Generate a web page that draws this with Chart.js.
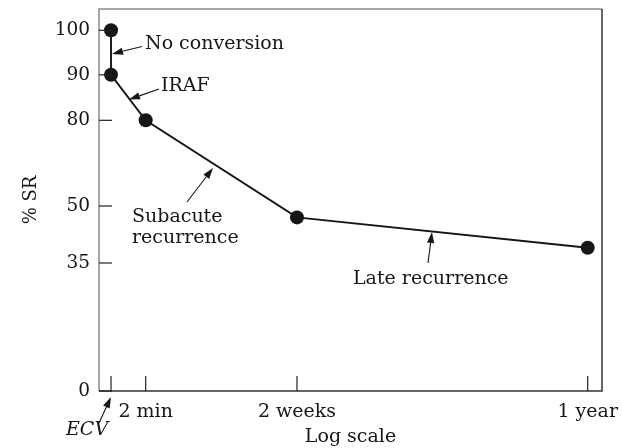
<!DOCTYPE html>
<html>
<head>
<meta charset="utf-8">
<script src="https://cdn.jsdelivr.net/npm/chart.js@4.4.1/dist/chart.umd.min.js"></script>
<style>
  html, body { margin: 0; padding: 0; background: #fff; }
  #wrap { width: 622px; height: 448px; }
</style>
</head>
<body>
<div id="wrap"><canvas id="myCanvas" width="622" height="448"></canvas></div>
<script>
// time points (minutes after cardioversion) and their tick labels
var timeLabels = ['ECV', '2 min', '2 weeks', '1 year'];
var timeMinutes = [0, 2, 20160, 525600];

// % still in sinus rhythm at each point
var pointTimes = [0, 0, 2, 20160, 525600];
var srPercent = [100, 90, 80, 47, 39];

// y tick labels
var yTicks = [0, 35, 50, 80, 90, 100];

var FONT = 'DejaVu Serif';
var INK = '#161616';

// axis with uneven spacing between the marked values
class PiecewiseScale extends Chart.LinearScale {
    buildTicks() {
        return this.options.tickValues.map(function (v) { return { value: v }; });
    }
    getPixelForValue(value) {
        var b = this.options.breaks, f = this.options.stops;
        var i = 0;
        while (i < b.length - 2 && value > b[i + 1]) i++;
        var t = (value - b[i]) / (b[i + 1] - b[i]);
        return this.getPixelForDecimal(f[i] + t * (f[i + 1] - f[i]));
    }
    getValueForPixel(pixel) {
        var b = this.options.breaks, f = this.options.stops;
        var d = this.getDecimalForPixel(pixel);
        var i = 0;
        while (i < f.length - 2 && d > f[i + 1]) i++;
        var t = (d - f[i]) / (f[i + 1] - f[i]);
        return b[i] + t * (b[i + 1] - b[i]);
    }
}
PiecewiseScale.id = 'piecewise';
PiecewiseScale.defaults = Chart.LinearScale.defaults;
Chart.register(PiecewiseScale);

var points = [];
for (var i in pointTimes) {
    points.push({ x: pointTimes[i], y: srPercent[i] });
}

var notes = [
    { text: ['No conversion'], x: 145, y: 44, from: [142, 46.5], to: [112, 54] },
    { text: ['IRAF'], x: 161, y: 86, from: [159, 89], to: [129, 99.5] },
    { text: ['Subacute', 'recurrence'], x: 132, y: 217, from: [187, 202], to: [213, 168] },
    { text: ['Late recurrence'], x: 353, y: 279, from: [428, 263], to: [432, 232] },
    { text: ['ECV'], x: 66, y: 430, italic: true, from: [99, 423], to: [111, 397] }
];

function arrow(ctx, a, b) {
    var ang = Math.atan2(b[1] - a[1], b[0] - a[0]);
    var len = 11, w = 3.6;
    var bx = b[0] - len * Math.cos(ang), by = b[1] - len * Math.sin(ang);
    ctx.beginPath();
    ctx.moveTo(a[0], a[1]);
    ctx.lineTo(bx, by);
    ctx.stroke();
    ctx.beginPath();
    ctx.moveTo(b[0], b[1]);
    ctx.lineTo(bx + w * Math.sin(ang), by - w * Math.cos(ang));
    ctx.lineTo(bx - w * Math.sin(ang), by + w * Math.cos(ang));
    ctx.closePath();
    ctx.fill();
}

var frame = {
    id: 'frame',
    afterDatasetsDraw: function (chart) {
        var ctx = chart.ctx, a = chart.chartArea;
        var xs = chart.scales.x, ys = chart.scales.y;
        ctx.save();
        ctx.lineWidth = 1.5;
        // box
        ctx.strokeStyle = '#8a8a8a';
        ctx.beginPath();
        ctx.moveTo(a.left, a.bottom);
        ctx.lineTo(a.left, a.top);
        ctx.lineTo(a.right, a.top);
        ctx.stroke();
        ctx.strokeStyle = '#333';
        ctx.beginPath();
        ctx.moveTo(a.right, a.top);
        ctx.lineTo(a.right, a.bottom);
        ctx.lineTo(a.left, a.bottom);
        ctx.stroke();
        // inward tick marks
        ctx.lineWidth = 1.2;
        ctx.strokeStyle = '#222';
        ys.ticks.forEach(function (t, k) {
            var py = ys.getPixelForTick(k);
            ctx.beginPath();
            ctx.moveTo(a.left, py);
            ctx.lineTo(a.left + 13, py);
            ctx.stroke();
        });
        xs.ticks.forEach(function (t, k) {
            var px = xs.getPixelForTick(k);
            ctx.beginPath();
            ctx.moveTo(px, a.bottom);
            ctx.lineTo(px, a.bottom - 15);
            ctx.stroke();
        });
        // notes and arrows
        ctx.fillStyle = INK;
        ctx.strokeStyle = INK;
        ctx.lineWidth = 1.1;
        ctx.textBaseline = 'middle';
        ctx.textAlign = 'left';
        notes.forEach(function (n) {
            ctx.font = (n.italic ? 'italic ' : '') + '19px "' + FONT + '"';
            n.text.forEach(function (line, j) {
                ctx.fillText(line, n.x, n.y + j * 21);
            });
            arrow(ctx, n.from, n.to);
        });
        ctx.restore();
    }
};

var ctx = document.getElementById('myCanvas');

var chart = new Chart(ctx, {
    type: 'scatter',
    data: {
        datasets: [
            {
                label: '% SR',
                data: points,
                showLine: true,
                borderColor: INK,
                borderWidth: 1.9,
                backgroundColor: INK,
                pointRadius: 7,
                pointBorderWidth: 0,
                pointBackgroundColor: INK
            }
        ]
    },
    options: {
        responsive: false,
        animation: false,
        events: [],
        layout: { padding: { top: 9, right: 20, left: 0, bottom: 0 } },
        plugins: {
            legend: { display: false },
            tooltip: { enabled: false }
        },
        scales: {
            x: {
                type: 'piecewise',
                min: -1,
                max: 560000,
                breaks: [-1].concat(timeMinutes, [560000]),
                stops: [0, 0.0239, 0.0928, 0.3936, 0.9716, 1],
                tickValues: timeMinutes,
                grid: { display: false },
                border: { display: false },
                ticks: {
                    autoSkip: false,
                    maxRotation: 0,
                    padding: 2,
                    color: INK,
                    font: { family: FONT, size: 19 },
                    callback: function (v) {
                        var k = timeMinutes.indexOf(v);
                        return k > 0 ? timeLabels[k] : '';
                    }
                },
                title: {
                    display: true,
                    text: 'Log scale',
                    color: INK,
                    font: { family: FONT, size: 19 },
                    padding: { top: 0, bottom: 0 }
                },
                afterFit: function (s) {
                    s.height = 57;
                    s.paddingLeft = 0;
                    s.paddingRight = 0;
                }
            },
            y: {
                type: 'piecewise',
                min: 0,
                max: 105,
                breaks: yTicks.concat([105]),
                stops: [0, 0.3351, 0.4843, 0.7086, 0.8277, 0.9442, 1],
                tickValues: yTicks,
                grid: { display: false },
                border: { display: false },
                ticks: {
                    padding: 1,
                    color: INK,
                    font: { family: FONT, size: 18.5 },
                    callback: function (v) { return String(v); }
                },
                title: {
                    display: true,
                    text: '% SR',
                    color: INK,
                    font: { family: FONT, size: 18 },
                    padding: { top: 21, bottom: 0 }
                },
                afterFit: function (s) {
                    s.width = 99;
                    s.paddingTop = 0;
                    s.paddingBottom = 0;
                }
            }
        }
    },
    plugins: [frame]
});
</script>
</body>
</html>
